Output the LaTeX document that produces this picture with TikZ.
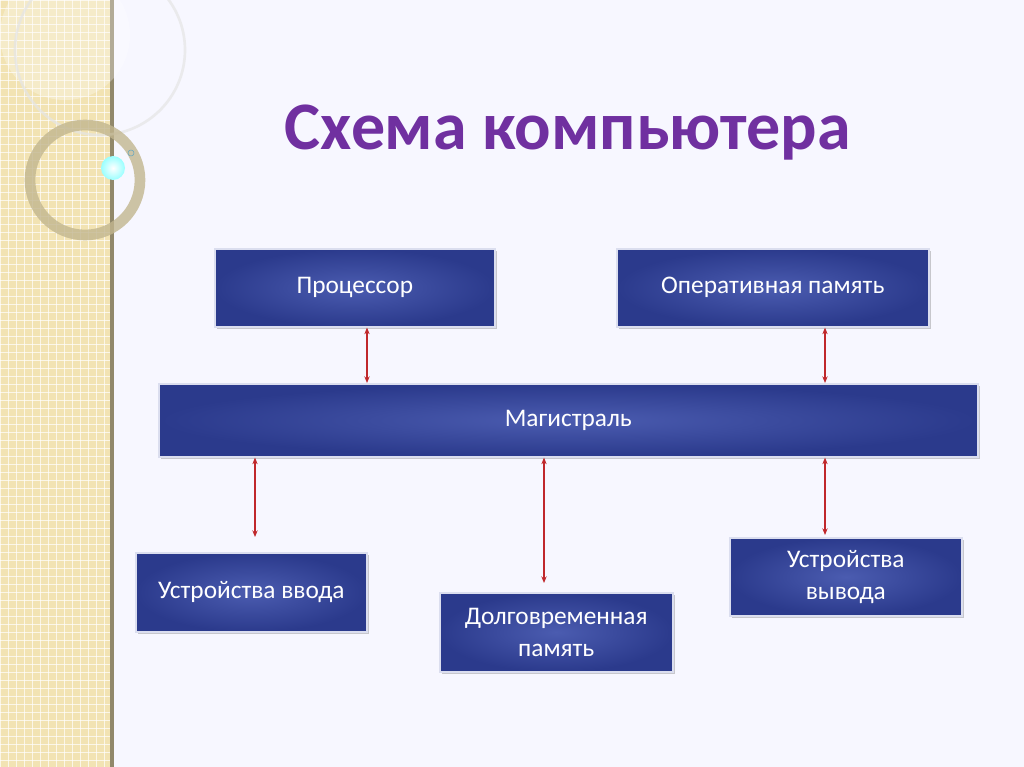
\documentclass[tikz,border=0pt]{standalone}
\usepackage{fontspec}
\setmainfont{Carlito}
\usetikzlibrary{shadows,arrows.meta}
\definecolor{boxA}{HTML}{2B3A8C}
\definecolor{boxB}{HTML}{4B5CB0}
\definecolor{titlec}{HTML}{7030A0}
\definecolor{strip}{HTML}{F2E3B3}
\definecolor{arr}{HTML}{C0282C}
\tikzset{
 blk/.style={draw=white!80!boxB,line width=1.2pt,inner color=boxB,outer color=boxA,text=white,font=\fontsize{19}{24}\selectfont,align=center,drop shadow={opacity=0.4,shadow xshift=1.5pt,shadow yshift=-1.5pt},anchor=north west,inner sep=0pt},
 link/.style={arr,line width=0.8pt,{Stealth[length=5pt,width=4pt]}-{Stealth[length=5pt,width=4pt]}}
}
\begin{document}
\begin{tikzpicture}[x=0.75pt,y=-0.75pt]
\useasboundingbox (0,0) rectangle (1024,767);
\fill[white!97!blue] (0,0) rectangle (1024,767);
\fill[strip] (0,0) rectangle (112,767);
\foreach \i in {0,8,...,767} {\draw[white,line width=0.5pt,opacity=0.7] (0,\i) -- (112,\i);}
\foreach \i in {0,8,...,112} {\draw[white,line width=0.5pt,opacity=0.7] (\i,0) -- (\i,767);}
\fill[black!40!strip] (110,0) rectangle (114,767);
\fill[white,opacity=0.3] (65,35) circle (65);
\draw[white!80!gray,line width=2pt,opacity=0.7] (100,50) circle (85);
\draw[black!20!strip,line width=8pt,opacity=0.8] (85,180) circle (55);
\shade[inner color=white,outer color=cyan!40] (113,168) circle (12);
\draw[cyan!50!gray] (131,153) circle (3);
\node[text=titlec,font=\fontsize{51}{60}\selectfont\bfseries] (title) at (568,133) {Схема компьютера};
\node[blk,minimum width=280*0.75pt,minimum height=78*0.75pt] (proc) at (214,248) {Процессор};
\node[blk,minimum width=312*0.75pt,minimum height=78*0.75pt] (ram) at (616,248) {Оперативная память};
\node[blk,minimum width=819*0.75pt,minimum height=73*0.75pt] (bus) at (158,383) {Магистраль};
\node[blk,minimum width=231*0.75pt,minimum height=79*0.75pt] (in) at (135,552) {Устройства ввода};
\node[blk,minimum width=233*0.75pt,minimum height=79*0.75pt] (hdd) at (439,592) {Долговременная\\память};
\node[blk,minimum width=232*0.75pt,minimum height=78*0.75pt] (out) at (729,537) {Устройства\\вывода};
\coordinate (c1) at (367,0); \coordinate (c2) at (825,0);
\coordinate (c3) at (255,537); \coordinate (c4) at (544,583); \coordinate (c5) at (825,535);
\draw[link] (proc.south -| c1) -- (bus.north -| c1);
\draw[link] (ram.south -| c2) -- (bus.north -| c2);
\draw[link] (bus.south -| c3) -- (c3);
\draw[link] (bus.south -| c4) -- (c4);
\draw[link] (bus.south -| c5) -- (c5);
\end{tikzpicture}
\end{document}
